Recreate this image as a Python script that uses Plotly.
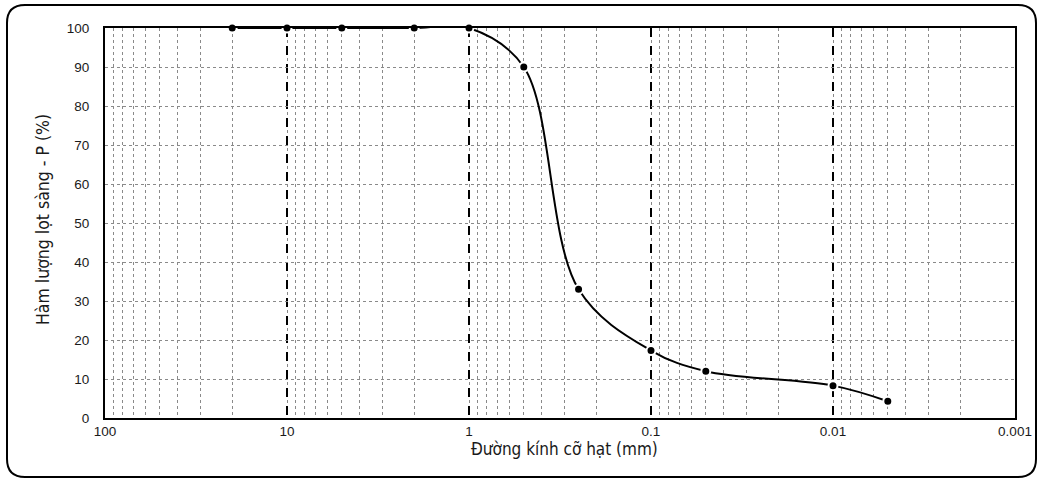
import plotly.graph_objects as go

# Data
diameter_mm = [20, 10, 5, 2, 1, 0.5, 0.25, 0.1, 0.05, 0.01, 0.005]
passing_pct = [100, 100, 100, 100, 100, 90, 33, 17.3, 12, 8.3, 4.3]

x_tickvals = [100, 10, 1, 0.1, 0.01, 0.001]
x_ticktext = ["100", "10", "1", "0.1", "0.01", "0.001"]
y_tickvals = [0, 10, 20, 30, 40, 50, 60, 70, 80, 90, 100]

x_title = "Đường kính cỡ hạt (mm)"
y_title = "Hàm lượng lọt sàng - P (%)"

FONT = "Liberation Sans, Arial, sans-serif"
NARROW = "Liberation Sans Narrow, Arial Narrow, DejaVu Sans Condensed, Liberation Sans, sans-serif"
TXT = "#1a1a1a"

fig = go.Figure()
fig.add_trace(go.Scatter(
    x=diameter_mm, y=passing_pct,
    mode="lines+markers",
    line=dict(color="black", width=2, shape="spline", smoothing=1),
    marker=dict(color="black", size=9, line=dict(color="white", width=2)),
    cliponaxis=False,
    showlegend=False,
))

# plot area in pixels
L, R, T, B = 105, 1015, 28, 418
W, H = R - L, B - T

def px(xp):
    return (xp - L) / W

def py(yp):
    return (B - yp) / H

# rounded outer frame (paper coords)
x0, x1, y0, y1, r = 7, 1036, 5, 477, 18
path = (
    f"M {px(x0 + r)} {py(y0)} L {px(x1 - r)} {py(y0)} "
    f"Q {px(x1)} {py(y0)} {px(x1)} {py(y0 + r)} "
    f"L {px(x1)} {py(y1 - r)} Q {px(x1)} {py(y1)} {px(x1 - r)} {py(y1)} "
    f"L {px(x0 + r)} {py(y1)} Q {px(x0)} {py(y1)} {px(x0)} {py(y1 - r)} "
    f"L {px(x0)} {py(y0 + r)} Q {px(x0)} {py(y0)} {px(x0 + r)} {py(y0)} Z"
)
fig.add_shape(type="path", path=path, xref="paper", yref="paper",
              line=dict(color="black", width=2), fillcolor="rgba(0,0,0,0)",
              layer="below")

# axis titles as annotations for precise placement
fig.add_annotation(text=x_title, xref="paper", yref="paper",
                   x=px(564), y=py(449), showarrow=False,
                   xanchor="center", yanchor="middle",
                   font=dict(family=NARROW, size=17, color=TXT))
fig.add_annotation(text=y_title, xref="paper", yref="paper",
                   x=px(43), y=py(220), showarrow=False, textangle=-90,
                   xanchor="center", yanchor="middle",
                   font=dict(family=NARROW, size=17.5, color=TXT))

fig.update_layout(
    width=1038, height=480,
    margin=dict(l=L, r=1038 - R, t=T, b=480 - B, pad=0),
    paper_bgcolor="white", plot_bgcolor="white",
    font=dict(family=FONT, size=13, color=TXT),
    xaxis=dict(
        type="log", range=[2, -3], automargin=False,
        tickvals=x_tickvals, ticktext=x_ticktext,
        ticks="", ticklen=0,
        showline=True, linecolor="black", linewidth=2, mirror=True,
        showgrid=True, gridcolor="black", gridwidth=2, griddash="dash",
        minor=dict(dtick="D1", showgrid=True, gridcolor="#8a8a8a",
                   gridwidth=1, griddash="dot", ticks=""),
        zeroline=False,
        tickfont=dict(family=FONT, size=13.5, color=TXT),
        ticklabelstandoff=0,
    ),
    yaxis=dict(
        range=[0, 100], tickvals=y_tickvals, automargin=False,
        ticks="",
        showline=True, linecolor="black", linewidth=2, mirror=True,
        showgrid=True, gridcolor="#8a8a8a", gridwidth=1, griddash="dot",
        zeroline=False,
        tickfont=dict(family=FONT, size=13.5, color=TXT),
        ticklabelstandoff=11,
    ),
)

fig.write_html("out.html")
